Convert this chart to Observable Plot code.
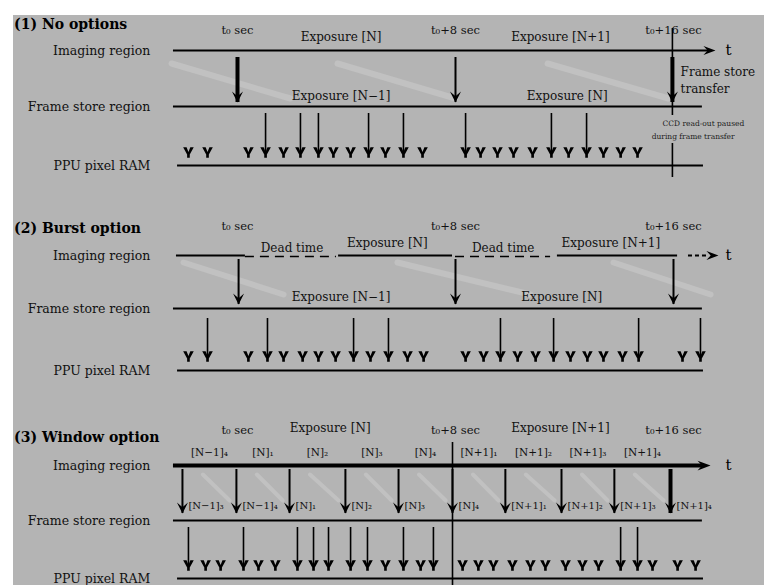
<!DOCTYPE html>
<html><head><meta charset="utf-8">
<script src="https://cdn.jsdelivr.net/npm/d3@7"></script>
<script src="https://cdn.jsdelivr.net/npm/@observablehq/plot@0.6"></script>
<style>
html,body{margin:0;padding:0;background:#fff;overflow:hidden;width:764px;height:585px}
#wrap{position:absolute;left:13px;top:15px;width:751px;height:570px;background:#b4b4b4}
#wrap svg{display:block;background:#b4b4b4}
</style></head><body><div id="wrap"></div>
<script>
// ---------------- DATA (times in seconds, relative to t0) ----------------
const panelTitles = ["(1) No options", "(2) Burst option", "(3) Window option"];
const regionNames = ["Imaging region", "Frame store region", "PPU pixel RAM"];
const timeLabels = ["t\u2080 sec", "t\u2080+8 sec", "t\u2080+16 sec"];
const timeLabelT = [0, 8, 16];

// (1) No options
const p1ImagingLabels = ["Exposure [N]", "Exposure [N+1]"];
const p1ImagingLabelT = [3.8, 11.85];
const p1StoreLabels = ["Exposure [N\u22121]", "Exposure [N]"];
const p1StoreLabelT = [3.8, 12.1];
const p1Transfers = [0, 8, 15.96];
const p1Fetches = [1.03, 2.31, 2.97, 4.81, 6.09, 8.37, 11.52, 12.81];
const p1Events = [-1.80, -1.10, 0.40, 1.03, 1.69, 2.31, 2.97, 3.52, 4.15, 4.81, 5.43, 6.09, 6.79,
  8.37, 8.92, 9.54, 10.13, 10.83, 11.52, 12.15, 12.81, 13.43, 14.06, 14.68];
const p1Slopes = [[-2.42, 1.94], [3.67, 8.0], [11.38, 15.82]];
const p1Notes = ["Frame store", "transfer"];
const p1SmallNotes = ["CCD read-out paused", "during frame transfer"];

// (2) Burst option
const p2ExposureSegments = [[-2.24, 0.29], [3.71, 7.89], [11.74, 16.15]];
const p2DeadSegments = [[0.29, 3.63], [8.0, 11.49]];
const p2ExposureLabels = ["Exposure [N]", "Exposure [N+1]"];
const p2ExposureLabelT = [5.5, 13.7];
const p2DeadLabels = ["Dead time", "Dead time"];
const p2DeadLabelT = [2.0, 9.75];
const p2StoreLabels = ["Exposure [N\u22121]", "Exposure [N]"];
const p2StoreLabelT = [3.8, 11.9];
const p2Transfers = [0.04, 8, 16];
const p2Fetches = [-1.10, 1.10, 4.26, 5.54, 9.65, 11.60, 14.72, 16.99];
const p2Events = [-1.80, -1.10, 0.40, 1.10, 1.69, 2.39, 2.97, 3.60, 4.26, 4.88, 5.54, 6.24, 6.83,
  8.37, 9.03, 9.65, 10.28, 10.94, 11.60, 12.22, 12.84, 13.43, 14.13, 14.72, 16.33, 16.99];
const p2Slopes = [[-1.98, 1.69], [5.87, 10.75], [13.8, 17.36]];

// (3) Window option
const p3ImagingLabels = ["Exposure [N]", "Exposure [N+1]"];
const p3ImagingLabelT = [3.4, 11.85];
const p3WindowLabels = ["[N\u22121]\u2084", "[N]\u2081", "[N]\u2082", "[N]\u2083", "[N]\u2084",
  "[N+1]\u2081", "[N+1]\u2082", "[N+1]\u2083", "[N+1]\u2084"];
const p3StoreLabels = ["[N\u22121]\u2083", "[N\u22121]\u2084", "[N]\u2081", "[N]\u2082", "[N]\u2083", "[N]\u2084",
  "[N+1]\u2081", "[N+1]\u2082", "[N+1]\u2083", "[N+1]\u2084"];
const p3Transfers = [-2.02, -0.04, 1.91, 3.96, 5.91, 7.89, 9.83, 11.89, 13.83, 15.89];
const p3Fetches = [-1.80, 0.22, 2.20, 2.79, 3.34, 4.15, 4.77, 6.09, 7.19, 14.06, 14.68];
const p3Events = [-1.80, -1.17, -0.62, 0.22, 0.77, 1.39, 2.20, 2.79, 3.34, 4.15, 4.77, 5.43, 6.09,
  6.72, 7.19, 8.26, 8.84, 9.39, 10.09, 10.75, 11.30, 12.04, 12.66, 13.25, 14.06, 14.68, 15.23, 16.15, 16.81];
const p3Boundary = 7.89;

// ---------------- LAYOUT ----------------
const PX_PER_SEC = 27.25, T0_PX = 224, W = 751, H = 570;
const LINE_START = -2.35, STORE_END = 17.06, PPU_START = -2.2, PPU_END = 17.10;
const LABEL_X = -3.2, TITLE_X = -8.2, T_LABEL_X = 18.02;
const rows = [
  {title: 24, time: 30, exp: 37, imaging: 50, storeText: 96, store: 106, mark: 152, ppu: 165,
   shaftTop: 57, shaftBot: 102, fetchTop: 113, slopeTop: 63, slopeBot: 98},
  {title: 228, time: 226, exp: 243, dead: 248, imaging: 255, storeText: 297, store: 308, mark: 356, ppu: 370,
   shaftTop: 259, shaftBot: 304, fetchTop: 318, slopeTop: 262, slopeBot: 294},
  {title: 437, time: 430, exp: 428, win: 452, imaging: 465, storeText: 505, store: 520, mark: 565, ppu: 578,
   shaftTop: 469, shaftBot: 513, fetchTop: 527, slopeTop: 474, slopeBot: 500}
];

// custom symbols
const vSym = {draw(ctx, size) { const r = Math.sqrt(size / Math.PI);
  ctx.moveTo(-r, -r); ctx.lineTo(-r * 0.35, -r); ctx.lineTo(0, -r * 0.1); ctx.lineTo(r * 0.35, -r);
  ctx.lineTo(r, -r); ctx.lineTo(r * 0.25, r * 0.4); ctx.lineTo(r * 0.25, r); ctx.lineTo(-r * 0.25, r);
  ctx.lineTo(-r * 0.25, r * 0.4); ctx.closePath(); }};
const headSym = {draw(ctx, size) { const r = Math.sqrt(size / Math.PI);
  ctx.moveTo(-r, -r); ctx.lineTo(0, -r * 0.15); ctx.lineTo(r, -r); ctx.lineTo(0, r); ctx.closePath(); }};
const rightSym = {draw(ctx, size) { const r = Math.sqrt(size / Math.PI);
  ctx.moveTo(r, 0); ctx.lineTo(-r, -r * 0.75); ctx.lineTo(-r * 0.3, 0); ctx.lineTo(-r, r * 0.75); ctx.closePath(); }};

// helpers
const hLine = (segs, y, w, dash) => Plot.ruleY(segs, {x1: d => d[0], x2: d => d[1], y: () => y,
  stroke: "#000", strokeWidth: w, strokeDasharray: dash});
const labels = (texts, ts, y, opts = {}) => Plot.text(texts, {x: (d, i) => ts[i], y: () => y, text: d => d,
  fill: "#111", fontSize: 12, ...opts});
const slopes = (segs, r, w) => Plot.link(segs, {x1: d => d[0], x2: d => d[1], y1: () => r.slopeTop, y2: () => r.slopeBot,
  stroke: "#c1c1c1", strokeWidth: w, strokeLinecap: "round"});
const shafts = (ts, y1, y2, w) => Plot.ruleX(ts, {x: d => d, y1: () => y1, y2: () => y2, stroke: "#000", strokeWidth: w});
const heads = (ts, y, r) => Plot.dot(ts, {x: d => d, y: () => y, symbol: headSym, r, dy: -r, fill: "#000", stroke: "none"});
const vmarks = (ts, y) => Plot.dot(ts, {x: d => d, y: () => y, symbol: vSym, r: 5.3, fill: "#000", stroke: "none"});
const tArrow = (t, y, r) => Plot.dot([t], {x: d => d, y: () => y, symbol: rightSym, r, dx: -r, fill: "#000", stroke: "none"});

function common(i, r, events, fetches) {
  return [
    Plot.text([panelTitles[i]], {x: () => TITLE_X, y: () => r.title, text: d => d, textAnchor: "start",
      fontWeight: "bold", fontSize: 14, fill: "#000"}),
    Plot.text(regionNames, {x: () => LABEL_X, y: (d, k) => [r.imaging, r.store, r.ppu][k], text: d => d,
      textAnchor: "end", fontSize: 12.5, fill: "#111"}),
    labels(timeLabels, timeLabelT, r.time, {fontSize: 11.5}),
    hLine([[LINE_START, STORE_END]], r.store, 2),
    hLine([[PPU_START, PPU_END]], r.ppu, 2),
    shafts(fetches, r.fetchTop, r.mark, 1.6),
    vmarks(events, r.mark),
    Plot.text(["t"], {x: () => T_LABEL_X, y: () => r.imaging, text: d => d, fontSize: 15, fill: "#000"})
  ];
}

const r1 = rows[0], r2 = rows[1], r3 = rows[2];
const p3Slopes = p3Transfers.slice(0, -1).map((t, k) => [t + 0.75, p3Transfers[k + 1] - 0.25]);
const p3Mid = p3Transfers.slice(0, -1).map((t, k) => (t + p3Transfers[k + 1]) / 2);

const marks = [
  // ---- panel 1
  slopes(p1Slopes, r1, 6),
  hLine([[LINE_START, 17.3]], r1.imaging, 2),
  tArrow(17.54, r1.imaging, 6),
  ...common(0, r1, p1Events, p1Fetches),
  labels(p1ImagingLabels, p1ImagingLabelT, r1.exp),
  labels(p1StoreLabels, p1StoreLabelT, r1.storeText),
  shafts([p1Transfers[1]], r1.shaftTop, r1.shaftBot, 2),
  shafts([p1Transfers[0], p1Transfers[2]], r1.shaftTop, r1.shaftBot, 4),
  heads(p1Transfers, r1.shaftBot, 5.5),
  Plot.ruleX([p1Transfers[2]], {x: d => d, y1: () => 28, y2: () => 115, stroke: "#000", strokeWidth: 1.6}),
  Plot.ruleX([p1Transfers[2]], {x: d => d, y1: () => 143, y2: () => 177, stroke: "#000", strokeWidth: 1.6}),
  Plot.text(p1Notes, {x: () => 16.26, y: (d, k) => [72, 89][k], text: d => d, textAnchor: "start", fontSize: 12, fill: "#111"}),
  Plot.text(p1SmallNotes, {x: (d, k) => [15.6, 15.2][k], y: (d, k) => [123, 136][k], text: d => d,
    textAnchor: "start", fontSize: 7.5, fill: "#222"}),
  // ---- panel 2
  slopes(p2Slopes, r2, 6),
  hLine(p2ExposureSegments, r2.imaging, 2),
  hLine(p2DeadSegments, r2.imaging + 1, 1.6, "9,6"),
  hLine([[16.55, 17.3]], r2.imaging, 2, "4,3"),
  tArrow(17.65, r2.imaging, 6),
  ...common(1, r2, p2Events, p2Fetches),
  labels(p2ExposureLabels, p2ExposureLabelT, r2.exp),
  labels(p2DeadLabels, p2DeadLabelT, r2.dead),
  labels(p2StoreLabels, p2StoreLabelT, r2.storeText),
  shafts(p2Transfers, r2.shaftTop, r2.shaftBot, 2),
  heads(p2Transfers, r2.shaftBot, 5.5),
  // ---- panel 3
  slopes(p3Slopes, r3, 4),
  hLine([[LINE_START, 17.1]], r3.imaging, 4),
  tArrow(17.36, r3.imaging, 6.5),
  ...common(2, r3, p3Events, p3Fetches),
  labels(p3ImagingLabels, p3ImagingLabelT, r3.exp),
  labels(p3WindowLabels, p3Mid, r3.win, {fontSize: 10.5}),
  Plot.text(p3StoreLabels, {x: (d, k) => p3Transfers[k], y: () => r3.storeText, text: d => d, dx: 6,
    textAnchor: "start", fontSize: 10, fill: "#111"}),
  shafts(p3Transfers.slice(0, -1), r3.shaftTop, r3.shaftBot, 2),
  shafts(p3Transfers.slice(-1), r3.shaftTop, r3.shaftBot, 4),
  heads(p3Transfers, r3.shaftBot, 5.5),
  Plot.ruleX([p3Boundary], {x: d => d, y1: () => 442, y2: () => 585, stroke: "#000", strokeWidth: 1.6})
];

const chart = Plot.plot({
  width: W, height: H, margin: 0,
  x: {domain: [-T0_PX / PX_PER_SEC, (W - T0_PX) / PX_PER_SEC], range: [0, W], axis: null},
  y: {domain: [15, 585], range: [0, H], axis: null},
  style: {background: "#b4b4b4", fontFamily: "'DejaVu Serif', 'Liberation Serif', serif", color: "#000"},
  marks
});
document.getElementById("wrap").append(chart);
</script></body></html>
